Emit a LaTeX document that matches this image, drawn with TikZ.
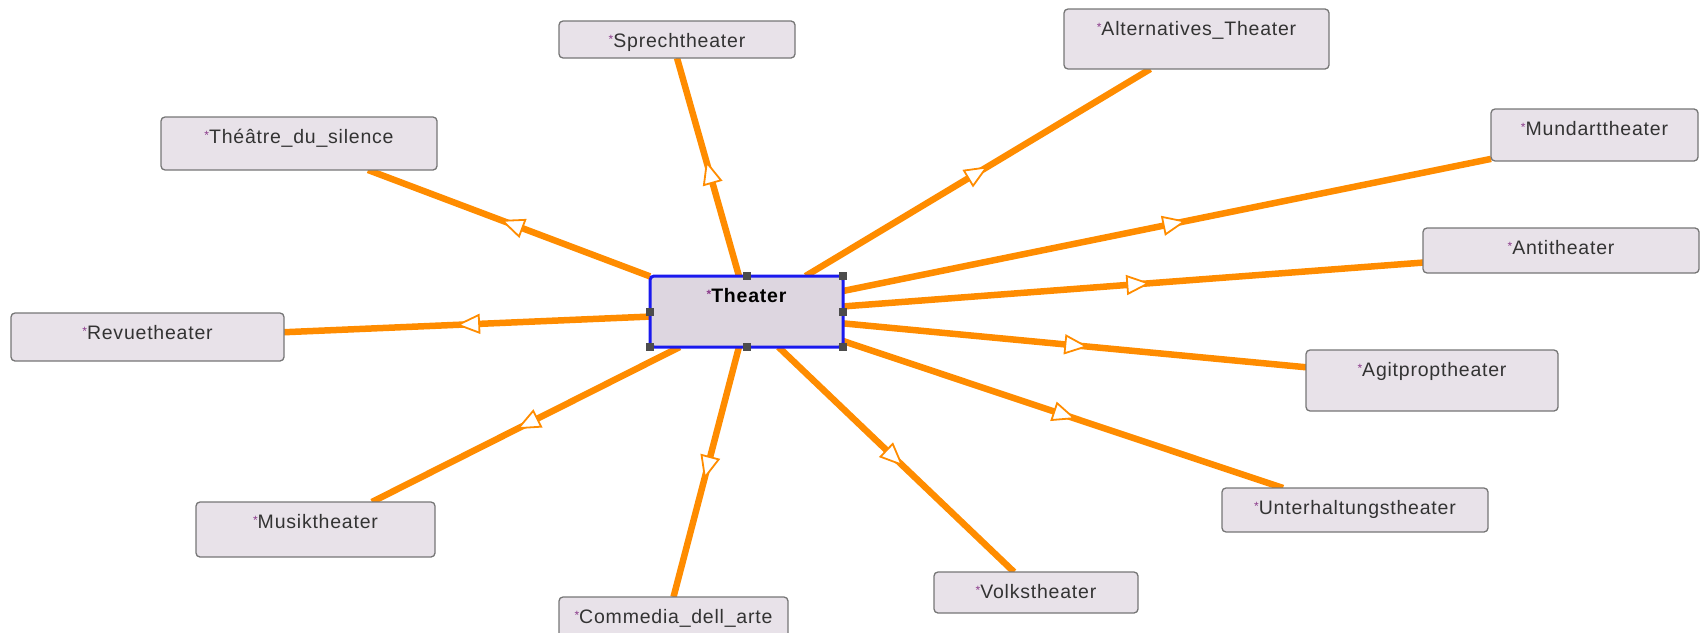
\documentclass[tikz,border=0pt]{standalone}
\usepackage{fontspec}
\usetikzlibrary{arrows.meta, decorations.markings, backgrounds}
\newfontfamily\diagfont[LetterSpace=4]{Liberation Sans}
\definecolor{boxfill}{HTML}{E8E2E9}
\definecolor{hubfill}{HTML}{DDD6E0}
\definecolor{boxline}{HTML}{767676}
\definecolor{hubline}{HTML}{1A1AEE}
\definecolor{linkorange}{HTML}{FF8C00}
\definecolor{starpurple}{HTML}{8A3A8A}
\newcommand{\st}{{\color{starpurple}\fontsize{12}{12}\selectfont\raisebox{4pt}{*}}}
\tikzset{
    box/.style={draw=boxline, fill=boxfill, line width=1.3pt, rounded corners=4pt, anchor=north west,
        inner sep=0pt, outer sep=0pt, text height=26pt, text=black!80, font=\diagfont\fontsize{19.5}{20}\selectfont},
    hub/.style={box, draw=hubline, fill=hubfill, line width=3pt, text=black,
        font=\diagfont\bfseries\fontsize{19.5}{20}\selectfont},
    link/.style={draw=linkorange, line width=6.5pt, postaction={decorate},
        decoration={markings, mark=at position 0.53 with
            {\arrow{Triangle[length=24pt, width=20pt, color=linkorange, fill=white, line width=1.8pt]}}}},
    handle/.style={fill=black!70, minimum size=8pt, inner sep=0pt}
}
\begin{document}
\begin{tikzpicture}[x=1pt, y=-1pt]
        \useasboundingbox (0,0) rectangle (1704,632);

        \node[hub, minimum width=193pt, text depth=45pt] (theater) at (650,276) {\st Theater};

        \node[box, minimum width=276pt, text depth=27pt] (silence) at (161,117) {\st Théâtre\_du\_silence};
        \node[box, minimum width=236pt, text depth=11pt] (sprech) at (559,21) {\st Sprechtheater};
        \node[box, minimum width=265pt, text depth=34pt] (alternativ) at (1064,9) {\st Alternatives\_Theater};
        \node[box, minimum width=207pt, text depth=26pt] (mundart) at (1491,109) {\st Mundarttheater};
        \node[box, minimum width=276pt, text depth=19pt] (anti) at (1423,228) {\st Antitheater};
        \node[box, minimum width=252pt, text depth=35pt] (agitprop) at (1306,350) {\st Agitproptheater};
        \node[box, minimum width=266pt, text depth=18pt] (unterhaltung) at (1222,488) {\st Unterhaltungstheater};
        \node[box, minimum width=204pt, text depth=15pt] (volks) at (934,572) {\st Volkstheater};
        \node[box, minimum width=229pt, text depth=19pt] (commedia) at (559,597) {\st Commedia\_dell\_arte};
        \node[box, minimum width=239pt, text depth=29pt] (musik) at (196,502) {\st Musiktheater};
        \node[box, minimum width=273pt, text depth=22pt] (revue) at (11,313) {\st Revuetheater};

        \begin{scope}[on background layer]
        \draw[link] (theater.160) -- (silence.-21);
        \draw[link] (theater.102) -- (sprech.south);
        \draw[link] (theater.31) -- (alternativ.213);
        \draw[link] (theater.12) -- (mundart.193);
        \draw[link] (theater.3) -- (anti.185);
        \draw[link] (theater.-7) -- (agitprop.174);
        \draw[link] (theater.-17) -- (unterhaltung.163);
        \draw[link] (theater.-48) -- (volks.137);
        \draw[link] (theater.258) -- (commedia.north);
        \draw[link] (theater.208) -- (musik.26);
        \draw[link] (theater.183) -- (revue.2);
        \end{scope}

        \foreach \a in {north, north east, east, south east, south, south west, west}
            \node[handle] (h-\a) at (theater.\a) {};
\end{tikzpicture}
\end{document}
